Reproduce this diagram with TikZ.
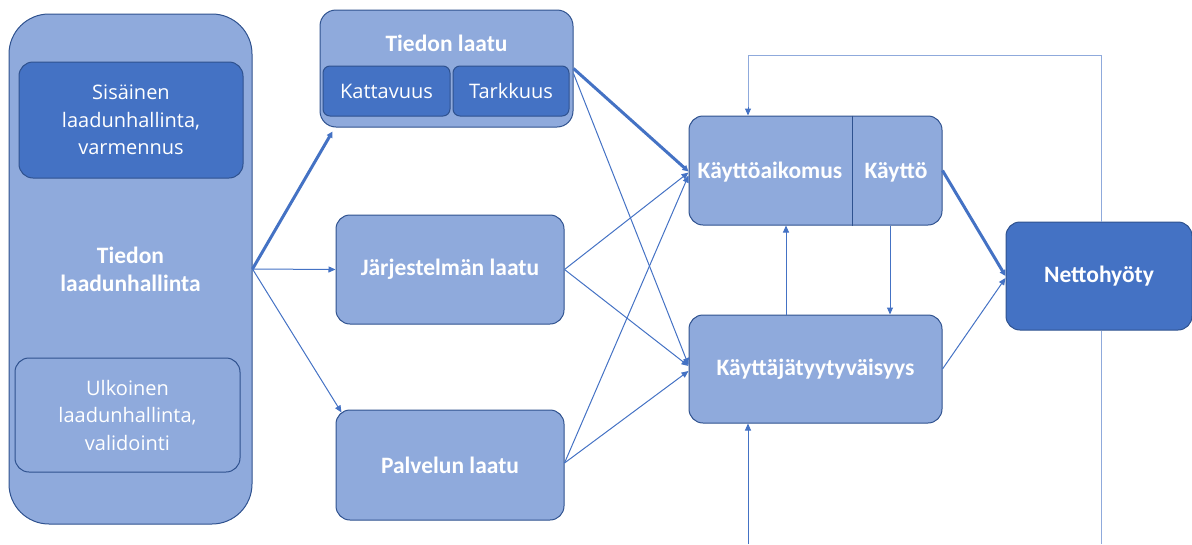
\documentclass[tikz,border=0pt]{standalone}
\usepackage{fontspec}
\setmainfont{Carlito}
\newfontfamily\plainfont{Open Sans}
\usetikzlibrary{arrows.meta,calc}
\definecolor{boxlight}{HTML}{8FAADC}
\definecolor{boxdark}{HTML}{4472C4}
\definecolor{edgeblue}{HTML}{2F528F}
\definecolor{linkblue}{HTML}{4472C4}
\definecolor{loopblue}{HTML}{8FAADC}

\begin{document}
\begin{tikzpicture}[x=1pt,y=-1pt,
  box/.style={draw=edgeblue, line width=1pt, fill=boxlight, rounded corners=14pt,
    text=white, align=center, inner sep=0pt,
    font=\plainfont\fontsize{20}{27.5}\selectfont},
  darkbox/.style={box, fill=boxdark},
  boldtext/.style={font=\fontsize{23.5}{28}\selectfont\bfseries},
  lbl/.style={text=white, inner sep=0pt, align=center, boldtext},
  linkthin/.style={draw=linkblue, line width=1pt,
    -{Triangle[length=7pt,width=6pt]}},
  linkthick/.style={draw=linkblue, line width=3pt,
    -{Triangle[length=6pt,width=6pt]}},
  loopline/.style={draw=loopblue, line width=1pt},
]
\useasboundingbox (0,0) rectangle (1192,544);

% left column: data quality management
\node[box, rounded corners=40pt, minimum width=243pt, minimum height=510pt,
  boldtext] (big) at (130.5,269) {Tiedon\\laadunhallinta};
\node[darkbox, minimum width=224pt, minimum height=116pt] (sis) at (131,120)
  {Sisäinen\\laadunhallinta,\\varmennus};
\node[box, minimum width=225pt, minimum height=114pt] (ulk) at (127.5,415)
  {Ulkoinen\\laadunhallinta,\\validointi};

% middle column: quality dimensions
\node[box, rounded corners=16pt, minimum width=253pt, minimum height=117pt] (tl) at (446.5,68.5) {};
\node[lbl] (tltitle) at (446.5,43) {Tiedon laatu};
\node[darkbox, rounded corners=7pt, minimum width=127pt, minimum height=50pt] (kat) at (386.5,91) {Kattavuus};
\node[darkbox, rounded corners=7pt, minimum width=116pt, minimum height=50pt] (tar) at (511,91) {Tarkkuus};
\node[box, minimum width=228pt, minimum height=109pt, boldtext] (jl) at (450,269.5) {Järjestelmän laatu};
\node[box, minimum width=228pt, minimum height=110pt, boldtext] (pl) at (450,465) {Palvelun laatu};

% right column: use and benefit
\node[box, minimum width=253pt, minimum height=109pt] (ka) at (815.5,170.5) {};
\draw[draw=edgeblue, line width=1pt] (ka.north -| 852,0) -- (ka.south -| 852,0);
\node[lbl] (kaim) at (770,172) {Käyttöaikomus};
\node[lbl] (kay) at (896,172) {Käyttö};
\node[box, minimum width=253pt, minimum height=108pt, boldtext] (kt) at (815.5,369) {Käyttäjätyytyväisyys};
\node[darkbox, minimum width=186pt, minimum height=108pt, boldtext] (nh) at (1099,276) {Nettohyöty};

% connectors from quality management
\draw[linkthick] (big.east) -- ($(tl.south west)+(13,4)$);
\draw[linkthin] (big.east) -- (jl.west);
\draw[linkthin] (big.east) -- ($(pl.north west)+(6,3)$);

% quality dimensions to intention / satisfaction
\draw[linkthick] (tl.east) -- ($(ka.west)+(0,1)$);
\draw[linkthin] ($(tl.east)+(0,5)$) -- ($(kt.west)+(0,-4)$);
\draw[linkthin] (jl.east) -- ($(ka.west)+(0,2)$);
\draw[linkthin] (jl.east) -- ($(kt.west)+(0,-3)$);
\draw[linkthin] ($(pl.east)+(0,-2)$) -- ($(ka.west)+(0,5)$);
\draw[linkthin] ($(pl.east)+(0,-2)$) -- ($(kt.west)+(0,2)$);

% use / satisfaction interplay
\draw[linkthin] (kt.north -| 786,0) -- (ka.south -| 786,0);
\draw[linkthin] (ka.south -| 890,0) -- (kt.north -| 890,0);

% to net benefit
\draw[linkthick] (ka.east) -- (nh.west);
\draw[linkthin] (kt.east) -- ($(nh.west)+(0,2)$);

% feedback loops
\coordinate (fbturn) at (748,55);
\coordinate (fbbottom) at (1101,544);
\coordinate (fbin) at (748,544);
\draw[loopline] ($(nh.north)+(2,0)$) |- (fbturn) -- ($(ka.north -| fbturn)+(0,-8)$);
\draw[draw=linkblue, line width=1pt, -{Triangle[length=7pt,width=6pt]}]
  ($(ka.north -| fbturn)+(0,-9)$) -- (ka.north -| fbturn);
\draw[loopline] ($(nh.south)+(2,0)$) -- (fbbottom);
\draw[linkthin] (fbin) -- (kt.south -| fbin);
\end{tikzpicture}
\end{document}
